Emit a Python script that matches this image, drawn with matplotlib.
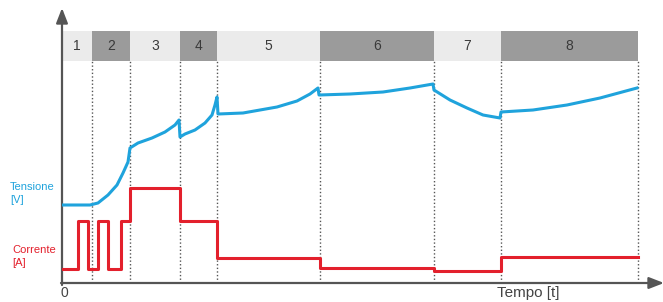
import matplotlib
matplotlib.use("Agg")
import matplotlib.pyplot as plt
from matplotlib.patches import Rectangle

plt.rcParams["font.family"] = ["Liberation Sans", "DejaVu Sans"]

# phase boundaries along the time axis
boundaries = [0, 30, 68, 118, 155, 258, 372, 439, 576]
phase_labels = ["1", "2", "3", "4", "5", "6", "7", "8"]

# voltage trace (time, value)
volt_t = [0, 28, 36, 46, 55, 61, 66, 68,
          76, 90, 103, 113, 117, 118,
          123, 133, 143, 150, 153, 155, 156,
          181, 215, 235, 248, 256, 257,
          288, 321, 348, 371, 372,
          388, 405, 421, 438, 439,
          471, 505, 538, 575]
volt_v = [78, 78, 80, 88, 98, 110, 121, 135,
          140, 145, 151, 158, 163, 146,
          149, 153, 160, 168, 178, 186, 169,
          170, 176, 182, 189, 195, 188,
          189, 191, 195, 199, 193,
          183, 175, 168, 165, 171,
          173, 178, 185, 195]

# current trace (step changes)
curr_t = [0, 16, 26, 36, 46, 59, 68, 118, 155, 258, 372, 439, 576]
curr_v = [14, 62, 14, 62, 14, 62, 95, 62, 25, 15, 12, 26, 26]

BLUE = "#1fa3dc"
RED = "#e3202c"
LIGHT = "#ebebeb"
DARK = "#9b9b9b"
AXIS = "#555555"

fig = plt.figure(figsize=(6.63, 3.02), dpi=100)
ax = fig.add_axes([62 / 663, 19 / 302, 601 / 663, 273 / 302])
ax.set_xlim(0, 601)
ax.set_ylim(0, 273)
ax.axis("off")

band_lo, band_hi = 222, 252
for i, lab in enumerate(phase_labels):
    x0, x1 = boundaries[i], boundaries[i + 1]
    ax.add_patch(Rectangle((x0, band_lo), x1 - x0, band_hi - band_lo,
                           facecolor=LIGHT if i % 2 == 0 else DARK,
                           edgecolor="none", zorder=1))
    ax.text((x0 + x1) / 2, (band_lo + band_hi) / 2, lab, ha="center",
            va="center", fontsize=10, color="#3a3a3a", zorder=3)

for b in boundaries[1:]:
    ax.plot([b, b], [0, band_lo], color=AXIS, linestyle=(0, (1, 1.6)),
            linewidth=1, zorder=2)

ax.plot(volt_t, volt_v, color=BLUE, linewidth=2.2, solid_joinstyle="round", zorder=4)
ax.step(curr_t, curr_v, where="post", color=RED, linewidth=2.2, zorder=4)

arrow = dict(arrowstyle="-|>,head_length=0.9,head_width=0.35", color=AXIS,
             linewidth=1.6, shrinkA=0, shrinkB=0)
ax.annotate("", xy=(0, 275), xytext=(0, -2), arrowprops=arrow, annotation_clip=False)
ax.annotate("", xy=(602, 0), xytext=(-1, 0), arrowprops=arrow, annotation_clip=False)

ax.text(-52, 96, "Tensione", color=BLUE, fontsize=8, va="center", ha="left", clip_on=False)
ax.text(-52, 83, "[V]", color=BLUE, fontsize=8, va="center", ha="left", clip_on=False)
ax.text(-50, 33, "Corrente", color=RED, fontsize=8, va="center", ha="left", clip_on=False)
ax.text(-50, 20, "[A]", color=RED, fontsize=8, va="center", ha="left", clip_on=False)
ax.text(2, -10, "0", color="#444444", fontsize=10, va="center", ha="center", clip_on=False)
ax.text(466, -10, "Tempo [t]", color="#444444", fontsize=11, va="center", ha="center",
        clip_on=False)

fig.savefig("out.png", dpi=100)
